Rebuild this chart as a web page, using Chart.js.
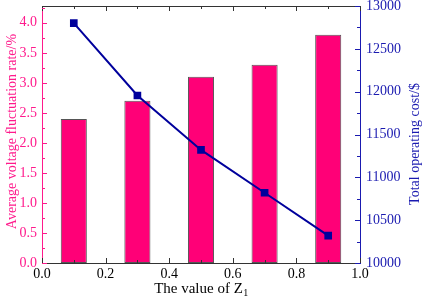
<!DOCTYPE html>
<html><head><meta charset="utf-8">
<script src="https://cdn.jsdelivr.net/npm/chart.js@4"></script>
<style>html,body{margin:0;padding:0;background:#fff}#wrap{width:422px;height:300px}</style>
</head><body><div id="wrap"><canvas id="c" width="422" height="300"></canvas></div>
<script>
const zValues = [0.1, 0.3, 0.5, 0.7, 0.9];
const fluctuationRate = [2.4, 2.7, 3.1, 3.3, 3.8];
const operatingCost = [12800, 11955, 11320, 10820, 10320];
const xTicks = [0.0, 0.2, 0.4, 0.6, 0.8, 1.0];
const yLeftTicks = [0.0, 0.5, 1.0, 1.5, 2.0, 2.5, 3.0, 3.5, 4.0];
const yRightTicks = [10000, 10500, 11000, 11500, 12000, 12500, 13000];
const xTitle = 'The value of Z';
const xTitleSub = '1';
const yLeftTitle = 'Average voltage fluctuation rate/%';
const yRightTitle = 'Total operating cost/$';

const PINK = '#ff1a8c', BAR = '#ff0077', BLUE = '#1a1ab0', LINE = '#00009c';
const FAM = '"Liberation Serif", "Times New Roman", serif';
const FONT = {family: FAM, size: 14};

function setTicks(list){ return function(scale){ scale.ticks = list.map(v => ({value: v})); }; }

const tickPlugin = {
  id: 'inTicks',
  afterDraw(chart){
    const ctx = chart.ctx, a = chart.chartArea;
    const x = chart.scales.x, yl = chart.scales.y, yr = chart.scales.y2;
    ctx.save();
    ctx.lineWidth = 1;
    ctx.strokeStyle = '#333';
    ctx.beginPath(); ctx.moveTo(a.left, a.top + 0.5); ctx.lineTo(a.right, a.top + 0.5); ctx.stroke();
    for (let i = 0; i <= 10; i++) {
      const v = i / 10, len = (i % 2 === 0) ? 5 : 3;
      const px = Math.round(x.getPixelForValue(v)) + 0.5;
      ctx.beginPath();
      ctx.moveTo(px, a.bottom); ctx.lineTo(px, a.bottom - len);
      ctx.moveTo(px, a.top); ctx.lineTo(px, a.top + len);
      ctx.stroke();
    }
    ctx.strokeStyle = PINK;
    for (let i = 0; i <= 17; i++) {
      const v = i * 0.25, len = (i % 2 === 0) ? 5 : 3;
      const py = Math.round(yl.getPixelForValue(v)) + 0.5;
      ctx.beginPath(); ctx.moveTo(a.left, py); ctx.lineTo(a.left + len, py); ctx.stroke();
    }
    ctx.strokeStyle = BLUE;
    for (let i = 0; i <= 12; i++) {
      const v = 10000 + i * 250, len = (i % 2 === 0) ? 5 : 3;
      const py = Math.round(yr.getPixelForValue(v)) + 0.5;
      ctx.beginPath(); ctx.moveTo(a.right, py); ctx.lineTo(a.right - len, py); ctx.stroke();
    }
    ctx.fillStyle = '#000';
    ctx.font = '15px ' + FAM;
    ctx.textBaseline = 'alphabetic';
    const w1 = ctx.measureText(xTitle).width;
    ctx.font = '10px ' + FAM;
    const w2 = ctx.measureText(xTitleSub).width;
    const cx = (a.left + a.right) / 2, start = cx - (w1 + w2) / 2;
    ctx.font = '15px ' + FAM;
    ctx.textAlign = 'left';
    ctx.fillText(xTitle, start, 293);
    ctx.font = '10px ' + FAM;
    ctx.fillText(xTitleSub, start + w1 + 0.5, 296);
    ctx.font = '14px ' + FAM;
    ctx.textAlign = 'center';
    ctx.textBaseline = 'middle';
    ctx.fillStyle = PINK;
    ctx.save(); ctx.translate(12, (a.top + a.bottom) / 2 - 3); ctx.rotate(-Math.PI / 2);
    ctx.fillText(yLeftTitle, 0, 0); ctx.restore();
    ctx.fillStyle = BLUE;
    ctx.save(); ctx.translate(415, 144); ctx.rotate(-Math.PI / 2);
    ctx.fillText(yRightTitle, 0, 0); ctx.restore();
    ctx.restore();
  }
};

function noPad(w){ return function(s){ s.width = w; s.paddingTop = 0; s.paddingBottom = 0; }; }

new Chart(document.getElementById('c'), {
  data: {
    datasets: [
      {
        type: 'line', label: 'cost', yAxisID: 'y2', xAxisID: 'x',
        data: zValues.map((z, i) => ({x: z, y: operatingCost[i]})),
        borderColor: LINE, borderWidth: 2, pointStyle: 'rect', pointRadius: 4,
        pointBackgroundColor: LINE, pointBorderColor: LINE, tension: 0, order: 0
      },
      {
        type: 'bar', label: 'rate', yAxisID: 'y', xAxisID: 'x',
        data: zValues.map((z, i) => ({x: z, y: fluctuationRate[i]})),
        backgroundColor: BAR, borderColor: '#555', borderWidth: 1, borderSkipped: false,
        barPercentage: 0.41, categoryPercentage: 1.0, order: 1
      }
    ]
  },
  options: {
    responsive: false, animation: false,
    layout: {padding: {top: 3, left: 0, right: 0, bottom: 0}},
    plugins: {legend: {display: false}, tooltip: {enabled: false}},
    scales: {
      x: {
        type: 'linear', min: 0, max: 1, offset: false,
        afterBuildTicks: setTicks(xTicks),
        afterFit(s){ s.height = 37; s.paddingLeft = 0; s.paddingRight = 0; },
        ticks: {color: '#000', font: FONT, padding: 3, maxRotation: 0, callback: v => v.toFixed(1)},
        grid: {display: false, drawTicks: false},
        border: {color: '#333', width: 1}
      },
      y: {
        type: 'linear', position: 'left', min: 0, max: 4.28,
        afterBuildTicks: setTicks(yLeftTicks),
        afterFit: noPad(42),
        ticks: {color: PINK, font: FONT, padding: 5, callback: v => v.toFixed(1)},
        grid: {display: false, drawTicks: false},
        border: {color: PINK, width: 1}
      },
      y2: {
        type: 'linear', position: 'right', min: 10000, max: 13000,
        afterBuildTicks: setTicks(yRightTicks),
        afterFit: noPad(62),
        ticks: {color: BLUE, font: FONT, padding: 6, callback: v => String(v)},
        grid: {display: false, drawTicks: false},
        border: {color: BLUE, width: 1}
      }
    }
  },
  plugins: [tickPlugin]
});
</script></body></html>
